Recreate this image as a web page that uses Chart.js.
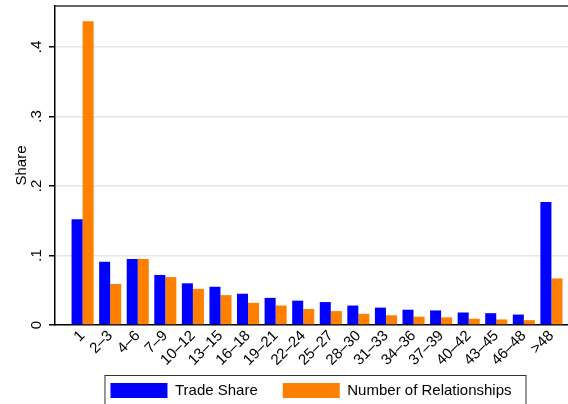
<!DOCTYPE html>
<html>
<head>
<meta charset="utf-8">
<script src="https://cdn.jsdelivr.net/npm/chart.js@4.4.0/dist/chart.umd.min.js"></script>
<style>
  html, body { margin: 0; padding: 0; background: #fff; }
  #wrap { width: 568px; height: 404px; overflow: hidden; position: relative; }
  #chart { position: absolute; left: 0; top: 0; }
</style>
</head>
<body>
<div id="wrap"><canvas id="chart" width="600" height="416"></canvas></div>
<script>
// number of trading partners (bins) and the two shares
const categories = ["1", "2–3", "4–6", "7–9", "10–12", "13–15", "16–18", "19–21", "22–24",
  "25–27", "28–30", "31–33", "34–36", "37–39", "40–42", "43–45", "46–48", ">48"];
const tradeShare = [0.152, 0.091, 0.095, 0.072, 0.060, 0.055, 0.045, 0.039, 0.035,
  0.033, 0.028, 0.025, 0.022, 0.021, 0.018, 0.017, 0.015, 0.177];
const relationships = [0.437, 0.059, 0.095, 0.069, 0.052, 0.043, 0.032, 0.028, 0.023,
  0.020, 0.016, 0.014, 0.012, 0.011, 0.009, 0.008, 0.007, 0.067];
const yTicks = [0, 0.1, 0.2, 0.3, 0.4];

const font = { family: "'Liberation Sans', Arial, sans-serif", size: 15 };
Chart.defaults.font = font;
Chart.defaults.color = "#000";

// pull the legend up under the tick labels and a bit to the left
const legendNudge = {
  id: "legendNudge",
  afterLayout(chart) {
    const lg = chart.legend;
    lg.top -= 8;
    lg.bottom -= 8;
    lg.left -= 6;
    lg.right -= 6;
  }
};

// top frame line + box round the legend
const frameLines = {
  id: "frameLines",
  afterDraw(chart) {
    const { ctx, chartArea } = chart;
    ctx.save();
    ctx.strokeStyle = "#333";
    ctx.lineWidth = 1.5;
    ctx.beginPath();
    ctx.moveTo(chartArea.left, chartArea.top);
    ctx.lineTo(chartArea.right, chartArea.top);
    ctx.lineTo(chartArea.right, chartArea.bottom);
    ctx.stroke();

    const boxes = chart.legend.legendHitBoxes;
    if (boxes && boxes.length) {
      const first = boxes[0];
      const last = boxes[boxes.length - 1];
      const left = first.left - 6;
      const right = last.left + last.width + 14;
      const top = first.top - 8;
      const bottom = first.top + first.height + 8;
      ctx.lineWidth = 1;
      ctx.strokeRect(left + 0.5, top + 0.5, right - left, bottom - top);
    }
    ctx.restore();
  }
};

const ctx = document.getElementById("chart").getContext("2d");
const myChart = new Chart(ctx, {
  type: "bar",
  data: {
    datasets: [
      {
        label: "Trade Share",
        backgroundColor: "#0000ff",
        borderWidth: 0,
        data: tradeShare.map((v, i) => ({ x: i + 1, y: v }))
      },
      {
        label: "Number of Relationships",
        backgroundColor: "#ff7f00",
        borderWidth: 0,
        data: relationships.map((v, i) => ({ x: i + 1, y: v }))
      }
    ]
  },
  options: {
    responsive: false,
    animation: false,
    categoryPercentage: 0.8,
    barPercentage: 1,
    layout: { padding: { left: 0, right: 21, top: 6, bottom: 0 } },
    scales: {
      x: {
        type: "linear",
        min: 0,
        max: 19,
        offset: false,
        grid: { display: false, drawTicks: false },
        border: { color: "#000", width: 1.5 },
        ticks: {
          autoSkip: false,
          minRotation: 45,
          maxRotation: 45,
          padding: 2,
          callback: v => categories[v - 1]
        },
        afterBuildTicks: s => { s.ticks = categories.map((c, i) => ({ value: i + 1 })); },
        afterFit: s => { s.height = 41; }
      },
      y: {
        min: 0,
        max: 0.459,
        grid: {
          color: c => (c.tick && c.tick.value === 0 ? "rgba(0,0,0,0)" : "#e6e6e6"),
          lineWidth: 1.5,
          tickColor: "#000",
          tickLength: 6,
          tickWidth: 1.5
        },
        border: { color: "#000", width: 1.5 },
        ticks: {
          minRotation: 90,
          maxRotation: 90,
          crossAlign: "center",
          padding: 6,
          callback: v => (v === 0 ? "0" : v.toFixed(1).slice(1))
        },
        afterBuildTicks: s => { s.ticks = yTicks.map(v => ({ value: v })); },
        title: { display: true, text: "Share", padding: { top: 13, bottom: 0 } },
        afterFit: s => {
          s.width = 55;
          s.paddingTop = 0;
        }
      }
    },
    plugins: {
      tooltip: { enabled: false },
      legend: {
        position: "bottom",
        fullSize: false,
        labels: { boxWidth: 57, boxHeight: 15, padding: 25, color: "#000", font }
      }
    }
  },
  plugins: [legendNudge, frameLines]
});
</script>
</body>
</html>
